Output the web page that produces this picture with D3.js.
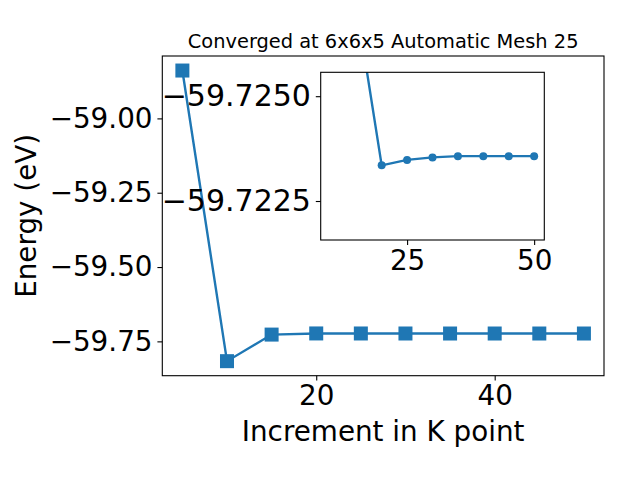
<!DOCTYPE html>
<html><head><meta charset="utf-8">
<script src="https://cdn.jsdelivr.net/npm/d3@7"></script>
<style>body{margin:0;background:#fff}svg{display:block}text{font-family:"DejaVu Sans",sans-serif;fill:#000}</style>
</head><body>
<svg id="c" width="640" height="480"></svg>
<script>
const kpoints = [5, 10, 15, 20, 25, 30, 35, 40, 45, 50];
const energy = [-58.839, -59.8166, -59.7272, -59.72335, -59.72348, -59.72354, -59.72357, -59.72357, -59.72357, -59.72357];
const mainXTicks = [20, 40];
const mainYTicks = [-59.00, -59.25, -59.50, -59.75];
const insetXTicks = [25, 50];
const insetYTicks = [-59.7250, -59.7225];
const insetYLim = [-59.72557, -59.72157]; // inverted axis (top -> bottom)
const title = "Converged at 6x6x5 Automatic Mesh 25";
const xLabel = "Increment in K point";
const yLabel = "Energy (eV)";

const color = "#1f77b4";
const svg = d3.select("#c");
const M = {l: 162.3, r: 604, t: 56, b: 375.7};
const I = {l: 320.7, r: 544.3, t: 72.3, b: 240};
const tickFS = 27.8, labelFS = 27.8, titleFS = 19.4, insetYFS = 30;
const LW = 2.4;

function pad(ext){const d=(ext[1]-ext[0])*0.05;return [ext[0]-d, ext[1]+d];}
const data = kpoints.map((k,i)=>({k, e: energy[i]}));
const insetData = data.slice(1);
const x = d3.scaleLinear().domain(pad(d3.extent(kpoints))).range([M.l, M.r]);
const y = d3.scaleLinear().domain(pad(d3.extent(energy))).range([M.b, M.t]);

function axes(g, xs, ys, box, xt, yt, yfmt, yfs){
  const xa = d3.axisBottom(xs).tickValues(xt).tickSize(4.9).tickPadding(4.9).tickFormat(d3.format("d"));
  const ya = d3.axisLeft(ys).tickValues(yt).tickSize(4.9).tickPadding(4.9).tickFormat(yfmt);
  const gx = g.append("g").attr("transform",`translate(0,${box.b})`).call(xa);
  const gy = g.append("g").attr("transform",`translate(${box.l},0)`).call(ya);
  [gx, gy].forEach(a=>{
    a.select(".domain").remove();
    a.selectAll(".tick line").attr("stroke","#000").attr("stroke-width",1.1);
    a.selectAll(".tick text").attr("font-size",tickFS).attr("font-family","DejaVu Sans").attr("fill","#000");
  });
  gy.selectAll(".tick text").attr("font-size",yfs);
  g.append("rect").attr("x",box.l).attr("y",box.t).attr("width",box.r-box.l).attr("height",box.b-box.t)
    .attr("fill","none").attr("stroke","#000").attr("stroke-width",1.1);
}

// main
const gm = svg.append("g");
gm.append("clipPath").attr("id","cm").append("rect").attr("x",M.l).attr("y",M.t).attr("width",M.r-M.l).attr("height",M.b-M.t);
const pm = gm.append("g").attr("clip-path","url(#cm)");
pm.append("path").datum(data).attr("fill","none").attr("stroke",color).attr("stroke-width",LW)
  .attr("d", d3.line().x(d=>x(d.k)).y(d=>y(d.e)));
pm.selectAll("rect.m").data(data).join("rect").attr("class","m")
  .attr("x",d=>x(d.k)-7).attr("y",d=>y(d.e)-7).attr("width",14).attr("height",14).attr("fill",color);
const fmtMinus = f => v => f(v).replace("-", "\u2212");
axes(gm, x, y, M, mainXTicks, mainYTicks, fmtMinus(d3.format(".2f")), tickFS);

gm.append("text").attr("x",(M.l+M.r)/2).attr("y",M.t-8.3).attr("text-anchor","middle").attr("font-size",titleFS).text(title);
gm.append("text").attr("x",(M.l+M.r)/2).attr("y",441).attr("text-anchor","middle").attr("font-size",labelFS).text(xLabel);
gm.append("text").attr("transform",`translate(36,${(M.t+M.b)/2}) rotate(-90)`).attr("text-anchor","middle").attr("font-size",labelFS).text(yLabel);

// inset
const xi = d3.scaleLinear().domain(pad(d3.extent(insetData, d=>d.k))).range([I.l, I.r]);
const yi = d3.scaleLinear().domain(insetYLim).range([I.t, I.b]);
const gi = svg.append("g");
gi.append("rect").attr("x",I.l).attr("y",I.t).attr("width",I.r-I.l).attr("height",I.b-I.t).attr("fill","#fff");
gi.append("clipPath").attr("id","ci").append("rect").attr("x",I.l).attr("y",I.t).attr("width",I.r-I.l).attr("height",I.b-I.t);
const pi = gi.append("g").attr("clip-path","url(#ci)");
pi.append("path").datum(insetData).attr("fill","none").attr("stroke",color).attr("stroke-width",LW)
  .attr("d", d3.line().x(d=>xi(d.k)).y(d=>yi(d.e)));
pi.selectAll("circle").data(insetData).join("circle").attr("cx",d=>xi(d.k)).attr("cy",d=>yi(d.e)).attr("r",4).attr("fill",color);
axes(gi, xi, yi, I, insetXTicks, insetYTicks, fmtMinus(d3.format(".4f")), insetYFS);
</script>
</body></html>
